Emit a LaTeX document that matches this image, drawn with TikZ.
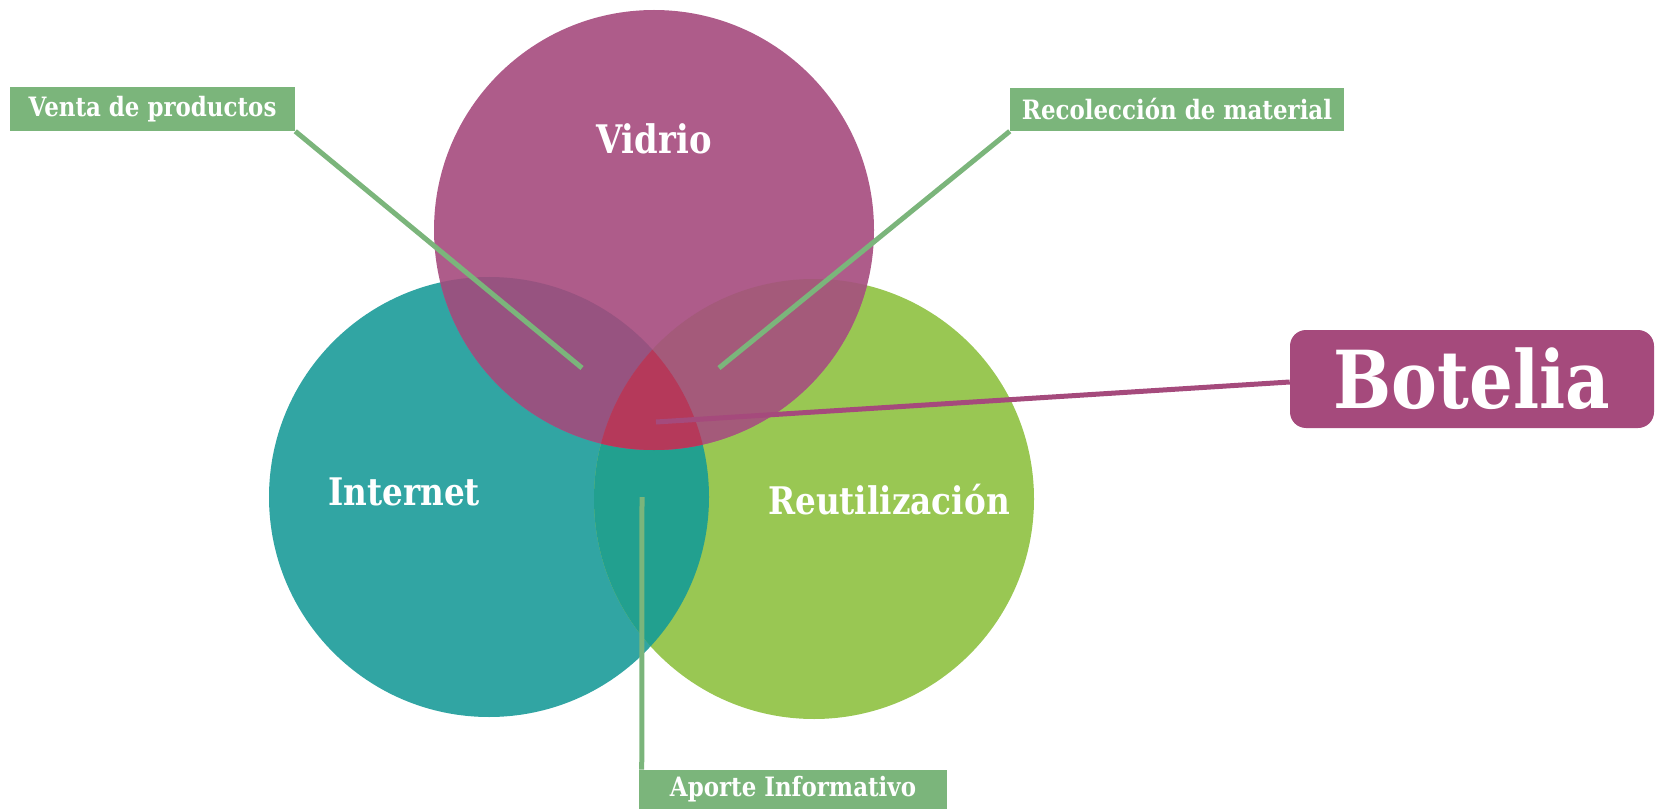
\documentclass[tikz,border=0pt]{standalone}
\usepackage{fontspec}
\setmainfont{DejaVu Serif}[FakeStretch=0.86]
\definecolor{vidrio}{HTML}{AE5C8A}
\definecolor{internet}{HTML}{31A5A3}
\definecolor{reuso}{HTML}{99C753}
\definecolor{intreu}{HTML}{22A08F}
\definecolor{vidint}{HTML}{975380}
\definecolor{vidreu}{HTML}{A45A7A}
\definecolor{centro}{HTML}{B5395A}
\definecolor{etiqueta}{HTML}{7BB57B}
\definecolor{marca}{HTML}{A54A7C}
\begin{document}
\begin{tikzpicture}[x=0.75pt,y=-0.75pt]
  \useasboundingbox (0,0) rectangle (1666,809);

  % circulos
  \fill[internet] (489,497) circle (220);
  \fill[reuso] (814,499) circle (220);
  \begin{scope}
    \clip (489,497) circle (220);
    \fill[intreu] (814,499) circle (220);
  \end{scope}
  \fill[vidrio] (654,230) circle (220);
  \begin{scope}
    \clip (654,230) circle (220);
    \fill[vidint] (489,497) circle (220);
    \fill[vidreu] (814,499) circle (220);
    \clip (489,497) circle (220);
    \fill[centro] (814,499) circle (220);
  \end{scope}

  \begin{scope}[every node/.style={text=white, font=\bfseries\fontsize{28.5}{34}\selectfont}]
    \node (vid) at (654,139) {\fontsize{29.5}{34}\selectfont Vidrio};
    \node (int) at (404,492) {Internet};
    \node (reu) at (889,500) {Reutilización};
  \end{scope}

  % etiquetas
  \begin{scope}[every node/.style={fill=etiqueta, text=white, inner sep=0pt,
      font=\bfseries\fontsize{20}{24}\selectfont}]
    \node[minimum width=213.75, minimum height=33] (venta) at (152.5,109) {Venta de productos};
    \node[minimum width=250.5, minimum height=32.25] (recol) at (1177,109.5) {Recolección de material};
    \node[minimum width=231, minimum height=29.25] (aporte) at (793,789.5) {Aporte Informativo};
  \end{scope}
  \node[fill=marca, text=white, rounded corners=12, inner sep=0pt, minimum width=273,
    minimum height=73.5, font=\bfseries\fontsize{60}{70}\selectfont] (botelia) at (1472,379) {Botelia};

  \coordinate (p1) at (582,368);
  \coordinate (p2) at (719,368);
  \coordinate (p3) at (642,497);
  \coordinate (p4) at (656,422);

  \begin{scope}[every path/.style={draw=etiqueta, line width=3.75}]
    \path (venta.south east) -- (p1);
    \path (recol.south west) -- (p2);
    \path (aporte.north west) ++(3,0) coordinate (a0) (a0) -- (p3);
  \end{scope}
  \draw[marca, line width=3.75] (botelia.west) ++(0,3) coordinate (b0) (b0) -- (p4);
\end{tikzpicture}
\end{document}
